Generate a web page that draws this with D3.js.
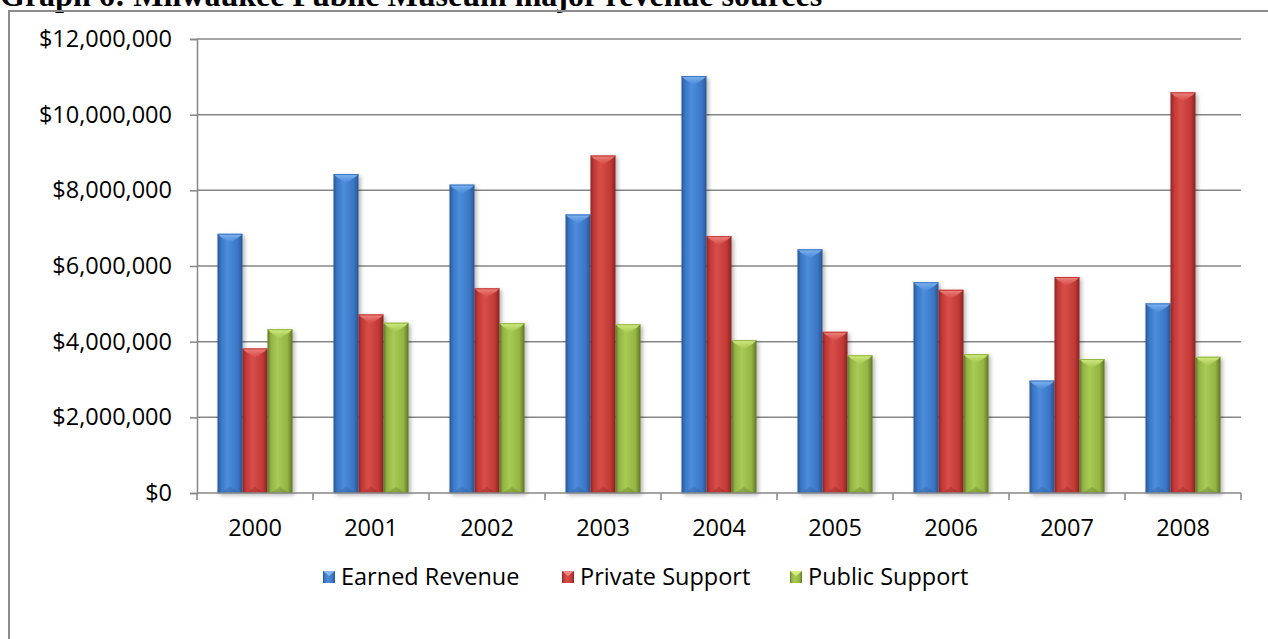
<!DOCTYPE html>
<html>
<head>
<meta charset="utf-8">
<script src="https://cdn.jsdelivr.net/npm/d3@7"></script>
<style>
  html, body { margin: 0; padding: 0; background: #ffffff; }
  svg { display: block; }
</style>
</head>
<body>
<svg id="chart" width="1268" height="639"></svg>
<script>
// Milwaukee Public Museum revenue by source, 2000–2008
const years = ["2000", "2001", "2002", "2003", "2004", "2005", "2006", "2007", "2008"];
const seriesNames = ["Earned Revenue", "Private Support", "Public Support"];
const earnedRevenue  = [6850000, 8430000, 8150000, 7360000, 11020000, 6440000, 5570000, 2970000, 5010000];
const privateSupport = [3820000, 4720000, 5410000, 8920000, 6790000, 4260000, 5370000, 5710000, 10590000];
const publicSupport  = [4330000, 4500000, 4490000, 4460000, 4040000, 3640000, 3670000, 3540000, 3600000];
const yTicks = [0, 2000000, 4000000, 6000000, 8000000, 10000000, 12000000];
const titleText = "Graph 6: Milwaukee Public Museum major revenue sources";

const seriesValues = [earnedRevenue, privateSupport, publicSupport];

// colour ramps for the bevelled bars: edge, body, highlight, top facet
const palette = [
  { edge: "#2a5694", body: "#3a76c4", light: "#4d8ddc", top: "#86b8f2" },
  { edge: "#8a2422", body: "#c23936", light: "#d84e49", top: "#f08a84" },
  { edge: "#5d7624", body: "#93b443", light: "#a8ca55", top: "#d6ef86" }
];

const svg = d3.select("#chart");
const font = "'Open Sans', 'DejaVu Sans', sans-serif";

const plotLeft = 197, plotRight = 1241, plotTop = 39, plotBottom = 493;

const x0 = d3.scaleBand().domain(years).range([plotLeft, plotRight])
  .paddingInner(0.3534).paddingOuter(0.1767);
const x1 = d3.scaleBand().domain(seriesNames).range([0, x0.bandwidth()]);
const y = d3.scaleLinear().domain([0, 12000000]).range([plotBottom, plotTop]);

const defs = svg.append("defs");
palette.forEach((p, i) => {
  const g = defs.append("linearGradient").attr("id", "bar" + i)
    .attr("x1", "0%").attr("x2", "100%").attr("y1", "0%").attr("y2", "0%");
  g.append("stop").attr("offset", "0%").attr("stop-color", p.edge);
  g.append("stop").attr("offset", "14%").attr("stop-color", p.body);
  g.append("stop").attr("offset", "40%").attr("stop-color", p.light);
  g.append("stop").attr("offset", "80%").attr("stop-color", p.body);
  g.append("stop").attr("offset", "100%").attr("stop-color", p.edge);
  const t = defs.append("linearGradient").attr("id", "facet" + i)
    .attr("x1", "0%").attr("x2", "0%").attr("y1", "0%").attr("y2", "100%");
  t.append("stop").attr("offset", "0%").attr("stop-color", p.top).attr("stop-opacity", 1);
  t.append("stop").attr("offset", "100%").attr("stop-color", p.light).attr("stop-opacity", 0.6);
});
const shadow = defs.append("filter").attr("id", "shadow")
  .attr("x", "-30%").attr("y", "-5%").attr("width", "160%").attr("height", "115%");
shadow.append("feDropShadow").attr("dx", 2).attr("dy", 2)
  .attr("stdDeviation", 2).attr("flood-color", "#000").attr("flood-opacity", 0.3);

// title running off the top of the page
svg.append("text")
  .attr("x", 0).attr("y", 6)
  .attr("font-family", "'Liberation Serif', 'Times New Roman', serif")
  .attr("font-weight", "bold").attr("font-size", 32)
  .attr("fill", "#000")
  .text(titleText);

// chart frame (left and top edges)
svg.append("path")
  .attr("d", "M9,639 V11 H1268")
  .attr("fill", "none").attr("stroke", "#8c8c8c").attr("stroke-width", 2);

// y axis with gridlines
const yAxis = svg.append("g").attr("transform", `translate(${plotLeft},0)`)
  .call(d3.axisLeft(y).tickValues(yTicks).tickSize(7).tickPadding(18)
    .tickFormat(d => "$" + d3.format(",")(d)));
yAxis.select(".domain").attr("stroke", "#868686").attr("stroke-width", 1.5);
yAxis.selectAll(".tick line").attr("stroke", "#868686").attr("stroke-width", 1.5);
yAxis.selectAll(".tick text")
  .attr("font-family", font).attr("font-size", 23.5).attr("fill", "#000");

svg.append("g").selectAll("line").data(yTicks.filter(d => d > 0)).join("line")
  .attr("x1", plotLeft).attr("x2", plotRight)
  .attr("y1", d => y(d)).attr("y2", d => y(d))
  .attr("stroke", "#868686").attr("stroke-width", 1.5);

// bars
const groups = svg.append("g").selectAll("g").data(years).join("g")
  .attr("transform", d => `translate(${x0(d)},0)`);

groups.each(function (yr, yi) {
  const g = d3.select(this);
  seriesNames.forEach((name, si) => {
    const v = seriesValues[si][yi];
    const bx = x1(name), bw = x1.bandwidth();
    const by = y(v), bh = y(0) - y(v);
    const bar = g.append("g").attr("filter", "url(#shadow)");
    bar.append("rect")
      .attr("x", bx).attr("y", by).attr("width", bw).attr("height", bh)
      .attr("fill", `url(#bar${si})`);
    // bevelled top facet
    bar.append("path")
      .attr("d", `M${bx},${by} H${bx + bw} L${bx + bw - 3},${by + 3} L${bx + bw / 2},${by + 9} L${bx + 3},${by + 3} Z`)
      .attr("fill", `url(#facet${si})`);
    bar.append("line")
      .attr("x1", bx).attr("x2", bx + bw).attr("y1", by + 0.5).attr("y2", by + 0.5)
      .attr("stroke", palette[si].body).attr("stroke-width", 1);
    // bottom facet
    bar.append("path")
      .attr("d", `M${bx + 3},${by + bh} L${bx + bw / 2},${by + bh - 6} L${bx + bw - 3},${by + bh} Z`)
      .attr("fill", palette[si].edge).attr("opacity", 0.35);
  });
});

// x axis with ticks between categories
const xAxisG = svg.append("g").attr("transform", `translate(0,${plotBottom})`);
xAxisG.append("line").attr("x1", plotLeft).attr("x2", plotRight)
  .attr("stroke", "#868686").attr("stroke-width", 1.5);
const boundaries = years.map(d => x0(d) - x0.step() * x0.paddingOuter()).concat([plotRight]);
xAxisG.selectAll("line.tick").data(boundaries).join("line").attr("class", "tick")
  .attr("x1", d => d).attr("x2", d => d).attr("y1", 0).attr("y2", 7)
  .attr("stroke", "#868686").attr("stroke-width", 1.5);
xAxisG.selectAll("text").data(years).join("text")
  .attr("x", d => x0(d) + x0.bandwidth() / 2).attr("y", 43)
  .attr("text-anchor", "middle")
  .attr("font-family", font).attr("font-size", 23.5).attr("fill", "#000")
  .text(d => d);

// legend
const legendX = [323, 562, 790];
const legend = svg.append("g").selectAll("g").data(seriesNames).join("g")
  .attr("transform", (d, i) => `translate(${legendX[i]},571)`);
legend.append("rect").attr("width", 12).attr("height", 12)
  .attr("fill", (d, i) => `url(#bar${i})`);
legend.append("path")
  .attr("d", "M0,0 H12 L6,5 Z")
  .attr("fill", (d, i) => palette[i].top);
legend.append("text").attr("x", 18).attr("y", 14)
  .attr("font-family", font).attr("font-size", 23.5).attr("fill", "#000")
  .text(d => d);
</script>
</body>
</html>
